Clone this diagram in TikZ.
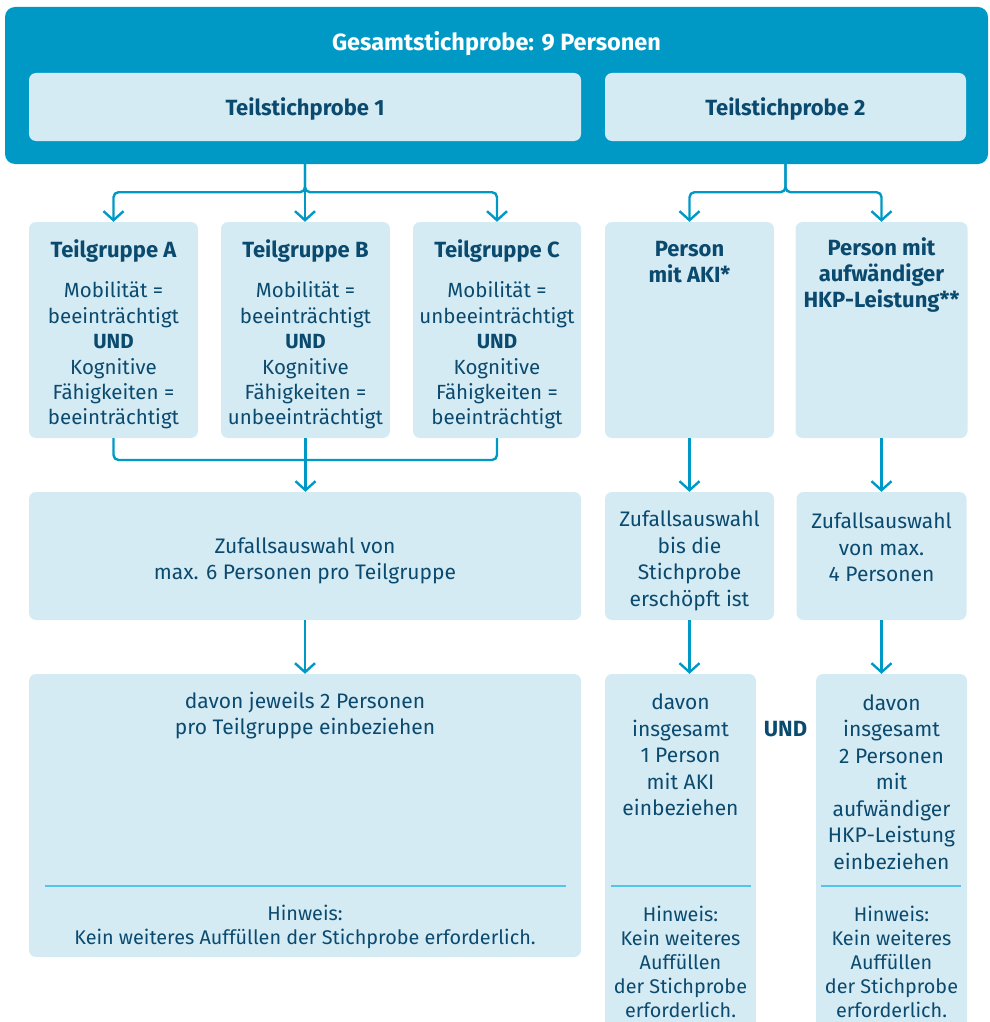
\documentclass[tikz,border=0pt]{standalone}
\usepackage{fontspec}
\setmainfont{Fira Sans}
\usetikzlibrary{arrows.meta,calc}
\definecolor{outerc}{HTML}{0099C6}
\definecolor{lightc}{HTML}{D5EBF4}
\definecolor{darkc}{HTML}{0B4A6F}
\definecolor{sepc}{HTML}{55C4EA}
\begin{document}
\begin{tikzpicture}[x=1pt,y=-1pt,
 lbox/.style={fill=lightc, rounded corners=7pt, inner sep=0pt, draw=none},
 body/.style={text=darkc, align=center, font=\fontsize{21}{26.5}\selectfont, inner sep=0pt, yshift=-2pt},
 head/.style={text=darkc, align=center, font=\fontsize{22}{26}\selectfont\bfseries, inner sep=0pt, yshift=-2pt},
 hint/.style={text=darkc, align=center, font=\fontsize{19.8}{24}\selectfont, inner sep=0pt, yshift=-1.5pt},
 conn/.style={draw=outerc, line width=2.4pt, rounded corners=5pt},
 arr/.style={conn, -{Straight Barb[length=9pt,width=20pt,line width=2.4pt]}},
 sep/.style={draw=sepc, line width=1.2pt}]
\useasboundingbox (0,0) rectangle (989,1022);
\clip (0,0) rectangle (989,1022);
% outer
\node[fill=outerc, rounded corners=10pt, minimum width=983pt, minimum height=157pt, inner sep=0pt] (outer) at (496.5,85.5) {};
\node[text=white, font=\fontsize{23.5}{26}\selectfont\bfseries, yshift=-2pt] (title) at (496.5,42) {Gesamtstichprobe: 9 Personen};
\node[lbox, minimum width=552pt, minimum height=68pt] (T1) at (305,107) {};
\node[lbox, minimum width=361pt, minimum height=68pt] (T2) at (785.5,107) {};
\node[head] (T1t) at (T1) {Teilstichprobe 1};
\node[head] (T2t) at (T2) {Teilstichprobe 2};
% row 2
\node[lbox, minimum width=169pt, minimum height=216pt] (A) at (113.5,330) {};
\node[lbox, minimum width=169pt, minimum height=216pt] (B) at (305.5,330) {};
\node[lbox, minimum width=168pt, minimum height=216pt] (C) at (497,330) {};
\node[lbox, minimum width=169pt, minimum height=216pt] (AKI) at (689.5,330) {};
\node[lbox, minimum width=172pt, minimum height=216pt] (HKP) at (881.5,330) {};
\node[head] (At) at (113.5,249) {Teilgruppe A};
\node[head] (Bt) at (305.5,249) {Teilgruppe B};
\node[head] (Ct) at (497,249) {Teilgruppe C};
\node[body, font=\fontsize{20.5}{25.4}\selectfont] (Ab) at (113.5,353.5) {Mobilität =\\beeinträchtigt\\{\bfseries UND}\\Kognitive\\Fähigkeiten =\\beeinträchtigt};
\node[body, font=\fontsize{20.5}{25.4}\selectfont] (Bb) at (305.5,353.5) {Mobilität =\\beeinträchtigt\\{\bfseries UND}\\Kognitive\\Fähigkeiten =\\unbeeinträchtigt};
\node[body, font=\fontsize{20.5}{25.4}\selectfont] (Cb) at (497,353.5) {Mobilität =\\unbeeinträchtigt\\{\bfseries UND}\\Kognitive\\Fähigkeiten =\\beeinträchtigt};
\node[head] (AKIt) at (689.5,260) {Person\\mit AKI*};
\node[head] (HKPt) at (881.5,273) {Person mit\\aufwändiger\\HKP-Leistung**};
% row 3
\node[lbox, minimum width=552pt, minimum height=128pt] (Z1) at (305,556) {};
\node[lbox, minimum width=169pt, minimum height=128pt] (Z2) at (689.5,556) {};
\node[lbox, minimum width=170pt, minimum height=128pt] (Z3) at (881.5,556) {};
\node[body] (Z1t) at (305,559) {Zufallsauswahl von\\max. 6 Personen pro Teilgruppe};
\node[body] (Z2t) at (689.5,559) {Zufallsauswahl\\bis die\\Stichprobe\\erschöpft ist};
\node[body] (Z3t) at (881.5,545.5) {Zufallsauswahl\\von max.\\4 Personen};
% row 4
\node[lbox, minimum width=552pt, minimum height=283pt] (D1) at (305,815.5) {};
\node[lbox, minimum width=151pt, minimum height=372pt] (D2) at (680.5,860) {};
\node[lbox, minimum width=151pt, minimum height=372pt] (D3) at (891.5,860) {};
\node[body] (D1t) at (305,713.5) {davon jeweils 2 Personen\\pro Teilgruppe einbeziehen};
\node[body] (D2t) at (680.5,753) {davon\\insgesamt\\1 Person\\mit AKI\\einbeziehen};
\node[body] (D3t) at (891.5,780) {davon\\insgesamt\\2 Personen\\mit\\aufwändiger\\HKP-Leistung\\einbeziehen};
\node[head] (und) at (785.5,727) {UND};
\draw[sep] (45,886) -- (566,886);
\draw[sep] (611,886) -- (751,886);
\draw[sep] (821,886) -- (961,886);
\node[hint] (D1h) at (305,925) {Hinweis:\\Kein weiteres Auffüllen der Stichprobe erforderlich.};
\node[hint] (D2h) at (680.5,960.5) {Hinweis:\\Kein weiteres\\Auffüllen\\der Stichprobe\\erforderlich.};
\node[hint] (D3h) at (891.5,960.5) {Hinweis:\\Kein weiteres\\Auffüllen\\der Stichprobe\\erforderlich.};
% connectors
\coordinate (s1) at (T1.south |- outer.south);
\coordinate (s2) at (T2.south |- outer.south);
\draw[arr] (s1) -- ++(0,28) -| (A.north);
\draw[arr] (s1) -- ++(0,28) -| (C.north);
\draw[arr] (s1) -- (s1 |- B.north);
\draw[arr] (s2) -- ++(0,28) -| (AKI.north);
\draw[arr] (s2) -- ++(0,28) -| (HKP.north);
\coordinate (j) at (305,460);
\draw[conn] (A.south) |- (j) -| (C.south);
\draw[arr] (B.south) -- (B.south |- Z1.north);
\draw[arr] (AKI.south) -- (Z2.north);
\draw[arr] (HKP.south) -- (Z3.north);
\draw[arr] (Z1.south) -- (D1.north);
\draw[arr] (Z2.south) -- (Z2.south |- D2.north);
\draw[arr] (Z3.south) -- (Z3.south |- D3.north);
\end{tikzpicture}
\end{document}
